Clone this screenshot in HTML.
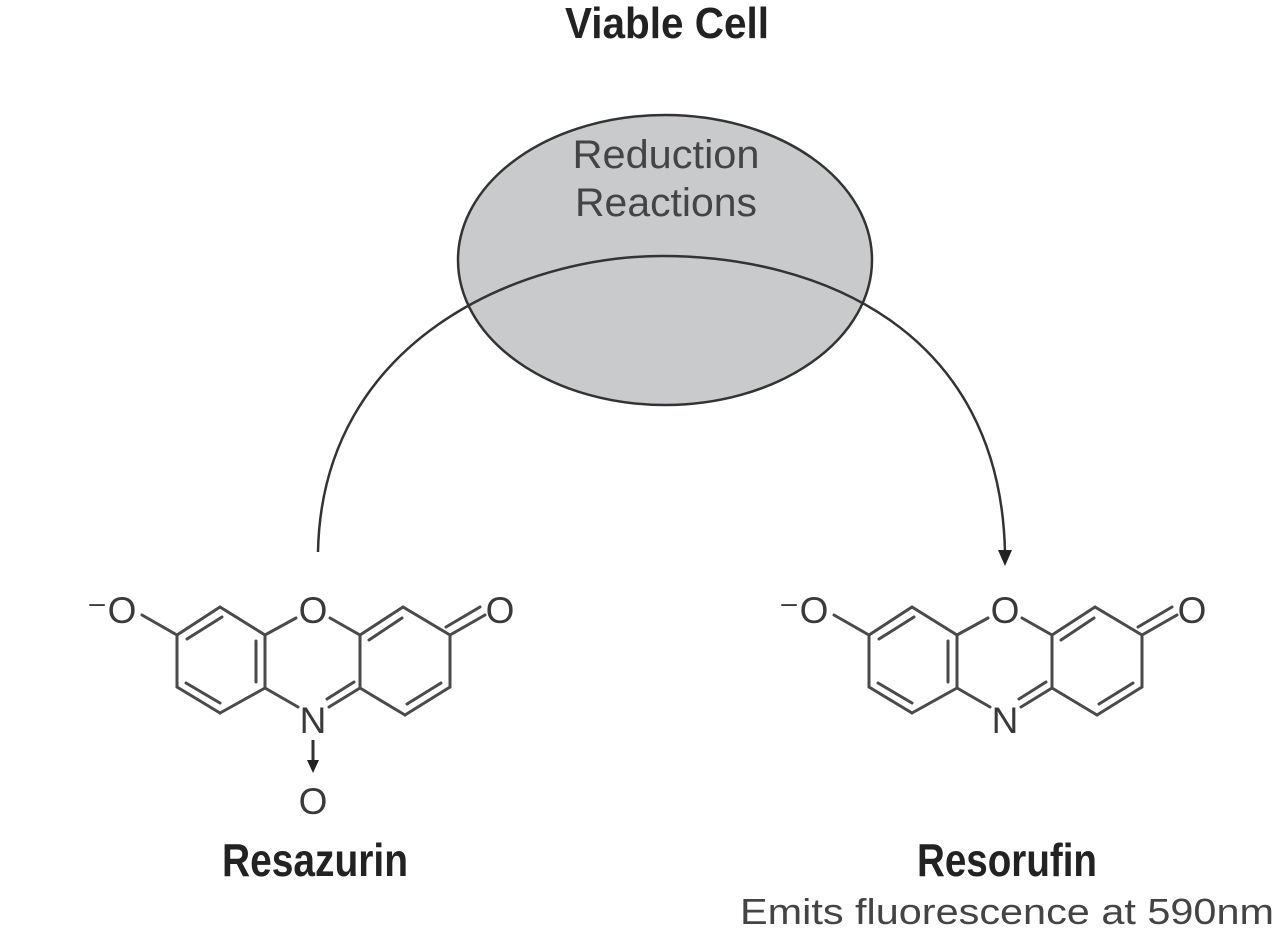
<!DOCTYPE html>
<html><head><meta charset="utf-8"><style>
html,body{margin:0;padding:0;background:#fff;}
svg{display:block;}
</style></head><body>
<svg width="1287" height="950" viewBox="0 0 1287 950" xmlns="http://www.w3.org/2000/svg">
<defs>
<g id="mol" stroke="#4a4a4a" stroke-width="3" fill="none" stroke-linecap="round">
  <line x1="220" y1="607" x2="177" y2="635"/>
  <line x1="222" y1="617" x2="187" y2="639"/>
  <line x1="177" y1="635" x2="177" y2="687"/>
  <line x1="177" y1="687" x2="220" y2="713"/>
  <line x1="186" y1="683" x2="220" y2="703"/>
  <line x1="220" y1="713" x2="265" y2="688"/>
  <line x1="265" y1="688" x2="265" y2="635"/>
  <line x1="256" y1="682" x2="256" y2="641"/>
  <line x1="265" y1="635" x2="220" y2="607"/>
  <line x1="265" y1="635" x2="296" y2="618"/>
  <line x1="330" y1="618" x2="360" y2="635"/>
  <line x1="265" y1="688" x2="298" y2="707"/>
  <line x1="329" y1="707" x2="360" y2="688"/>
  <line x1="327" y1="699" x2="354" y2="682"/>
  <line x1="360" y1="635" x2="403" y2="607"/>
  <line x1="369" y1="640" x2="402" y2="618"/>
  <line x1="403" y1="607" x2="450" y2="635"/>
  <line x1="450" y1="635" x2="450" y2="687"/>
  <line x1="450" y1="687" x2="405" y2="715"/>
  <line x1="441" y1="683" x2="407" y2="704"/>
  <line x1="405" y1="715" x2="360" y2="688"/>
  <line x1="360" y1="688" x2="360" y2="635"/>
  <line x1="450" y1="635" x2="485" y2="615"/>
  <line x1="446" y1="627" x2="480" y2="607"/>
  <line x1="177" y1="635" x2="142" y2="615"/>
</g>
<g id="lab" font-family="Liberation Sans, sans-serif" font-size="37" fill="#3a3a3a" text-anchor="middle">
  <text x="313" y="623">O</text>
  <text x="500" y="623">O</text>
  <text x="122" y="623">O</text>
  <text x="97" y="612" font-size="28">–</text>
</g>
</defs>

<ellipse cx="665" cy="260" rx="207" ry="145" fill="#c9cacc" stroke="#333" stroke-width="2.5"/>

<path d="M318,552 C322,340 520,256 662,256 C820,256 1000,330 1005,552" fill="none" stroke="#333" stroke-width="2.5"/>
<polygon points="998,550 1012,550 1005,566" fill="#222"/>

<text x="667" y="38" font-family="Liberation Sans Narrow, Liberation Sans, sans-serif" font-weight="bold" font-size="44" fill="#222" text-anchor="middle" textLength="204" lengthAdjust="spacingAndGlyphs">Viable Cell</text>
<g font-family="Liberation Sans, sans-serif" font-size="40" fill="#444" text-anchor="middle">
  <text x="666" y="168" textLength="187" lengthAdjust="spacingAndGlyphs">Reduction</text>
  <text x="666" y="216" textLength="182" lengthAdjust="spacingAndGlyphs">Reactions</text>
</g>

<use href="#mol"/>
<use href="#lab"/>
<g font-family="Liberation Sans, sans-serif" font-size="37" fill="#3a3a3a" text-anchor="middle">
  <text x="313" y="733">N</text>
  <text x="313" y="814">O</text>
</g>
<line x1="313" y1="740" x2="313" y2="762" stroke="#333" stroke-width="3"/>
<polygon points="307,760 319,760 313,773" fill="#222"/>
<text x="315" y="876" font-family="Liberation Sans Narrow, Liberation Sans, sans-serif" font-weight="bold" font-size="46" fill="#222" text-anchor="middle" textLength="186" lengthAdjust="spacingAndGlyphs">Resazurin</text>

<g transform="translate(692 0)">
  <use href="#mol"/>
  <use href="#lab"/>
  <text x="313" y="733" font-family="Liberation Sans, sans-serif" font-size="37" fill="#3a3a3a" text-anchor="middle">N</text>
</g>
<text x="1007" y="876" font-family="Liberation Sans Narrow, Liberation Sans, sans-serif" font-weight="bold" font-size="46" fill="#222" text-anchor="middle" textLength="180" lengthAdjust="spacingAndGlyphs">Resorufin</text>
<text x="1007" y="924" font-family="Liberation Sans, sans-serif" font-size="36" fill="#444" text-anchor="middle" textLength="534" lengthAdjust="spacingAndGlyphs">Emits fluorescence at 590nm</text>
</svg>
</body></html>
